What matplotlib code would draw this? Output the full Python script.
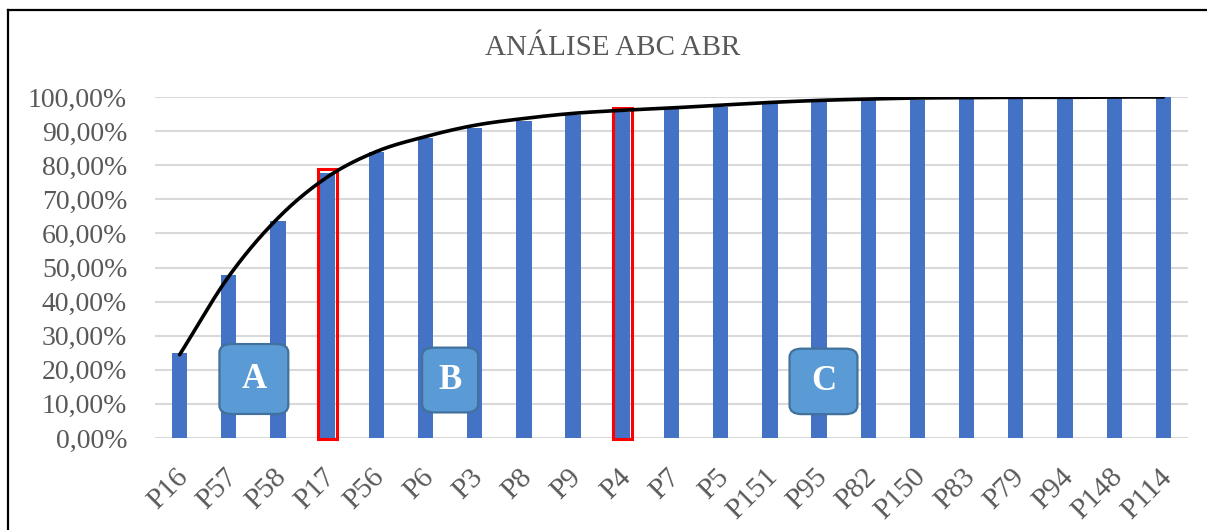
import numpy as np
import matplotlib
matplotlib.use("Agg")
import matplotlib.pyplot as plt
from matplotlib.patches import Rectangle, FancyBboxPatch
from matplotlib.lines import Line2D
from matplotlib.ticker import FuncFormatter
from matplotlib.transforms import ScaledTranslation

# ---- data ----
title = "ANÁLISE ABC ABR"
categories = ["P16", "P57", "P58", "P17", "P56", "P6", "P3", "P8", "P9", "P4", "P7",
              "P5", "P151", "P95", "P82", "P150", "P83", "P79", "P94", "P148", "P114"]
cumulative = [0.249, 0.478, 0.635, 0.778, 0.839, 0.880, 0.908, 0.929, 0.947, 0.957,
              0.964, 0.972, 0.981, 0.986, 0.990, 0.992, 0.993, 0.994, 0.995, 0.996, 1.000]
# smoothed trend curve values read at each category
trend = [0.244, 0.474, 0.645, 0.765, 0.840, 0.884, 0.917, 0.937, 0.952, 0.961,
         0.968, 0.976, 0.984, 0.990, 0.994, 0.997, 0.998, 0.999, 0.999, 1.000, 1.000]
highlighted = ["P17", "P4"]
class_labels = ["A", "B", "C"]

# ---- style ----
W, H = 1207, 530
fig = plt.figure(figsize=(W / 100, H / 100), dpi=100)
serif = ["Liberation Serif", "DejaVu Serif"]
text_color = "#595959"
bar_color = "#4472C4"

ax = fig.add_axes([155 / W, 1 - 438 / H, (1188 - 155) / W, (438 - 97) / H])
x = np.arange(len(categories))
bw = 0.31
ax.bar(x, cumulative, width=bw, color=bar_color, zorder=2)
ax.set_xlim(-0.5, len(categories) - 0.5)
ax.set_ylim(0, 1.0)
ax.set_yticks(np.arange(0, 1.01, 0.1))
ax.yaxis.set_major_formatter(FuncFormatter(lambda v, p: f"{v*100:.2f}%".replace(".", ",")))
ax.grid(axis="y", color="#D9D9D9", linewidth=1.5, zorder=0)
ax.set_axisbelow(True)
for s in ax.spines.values():
    s.set_visible(False)
ax.tick_params(axis="y", length=0, pad=20, labelsize=20, labelcolor=text_color)
ax.tick_params(axis="x", length=0, pad=10, labelsize=21, labelcolor=text_color)
for lab in ax.get_yticklabels():
    lab.set_fontfamily(serif)
ax.set_xticks(x)
ax.set_xticklabels(categories, rotation=45, ha="right", rotation_mode="anchor",
                   fontfamily=serif)
off = ScaledTranslation(-5 / 100, -12 / 100, fig.dpi_scale_trans)
for lab in ax.get_xticklabels():
    lab.set_transform(lab.get_transform() + off)

# smooth line through trend points (Catmull-Rom)
px = np.array(x, dtype=float)
py = np.array(trend, dtype=float)
ex = np.concatenate([[2 * px[0] - px[1]], px, [2 * px[-1] - px[-2]]])
ey = np.concatenate([[2 * py[0] - py[1]], py, [2 * py[-1] - py[-2]]])
cx, cy = [], []
t = np.linspace(0, 1, 30)
for i in range(1, len(ex) - 2):
    p0, p1, p2, p3 = [np.array([ex[j], ey[j]]) for j in (i - 1, i, i + 1, i + 2)]
    for tt in t:
        pt = 0.5 * ((2 * p1) + (-p0 + p2) * tt + (2 * p0 - 5 * p1 + 4 * p2 - p3) * tt ** 2
                    + (-p0 + 3 * p1 - 3 * p2 + p3) * tt ** 3)
        cx.append(pt[0]); cy.append(pt[1])
ax.plot(cx, cy, color="black", linewidth=2.6, zorder=4, solid_capstyle="round")

# red highlight rectangles
for name in highlighted:
    i = categories.index(name)
    v = cumulative[i]
    ax.add_patch(Rectangle((i - bw / 2 - 0.04, -0.003), bw + 0.08, v + 0.013,
                           fill=False, edgecolor="#FF0000", linewidth=2.2, zorder=3,
                           clip_on=False))

# class boxes
boxes = [(1.51, 0.173, 1.40, 0.205), (5.50, 0.170, 1.14, 0.190), (13.09, 0.166, 1.38, 0.192)]
for lab, (bx, by, bwid, bh) in zip(class_labels, boxes):
    ax.add_patch(FancyBboxPatch((bx - bwid / 2, by - bh / 2), bwid, bh,
                                boxstyle="round,pad=0,rounding_size=0.25",
                                mutation_aspect=0.1,
                                facecolor="#5B9BD5", edgecolor="#41719C",
                                linewidth=1.6, zorder=5))
    ax.text(bx, by, lab, color="white", fontsize=25, fontweight="bold",
            fontfamily=serif, ha="center", va="center", zorder=6)

fig.text(613 / W, 1 - 48 / H, title, ha="center", va="center", fontsize=21,
         color=text_color, fontfamily=serif)

# outer frame (top and left)
fig.add_artist(Line2D([8 / W, 8 / W], [0, 1 - 10 / H], color="black", linewidth=1.6,
                      transform=fig.transFigure))
fig.add_artist(Line2D([8 / W, 1], [1 - 10 / H, 1 - 10 / H], color="black", linewidth=1.6,
                      transform=fig.transFigure))

fig.savefig("out.png", dpi=100, facecolor="white")
